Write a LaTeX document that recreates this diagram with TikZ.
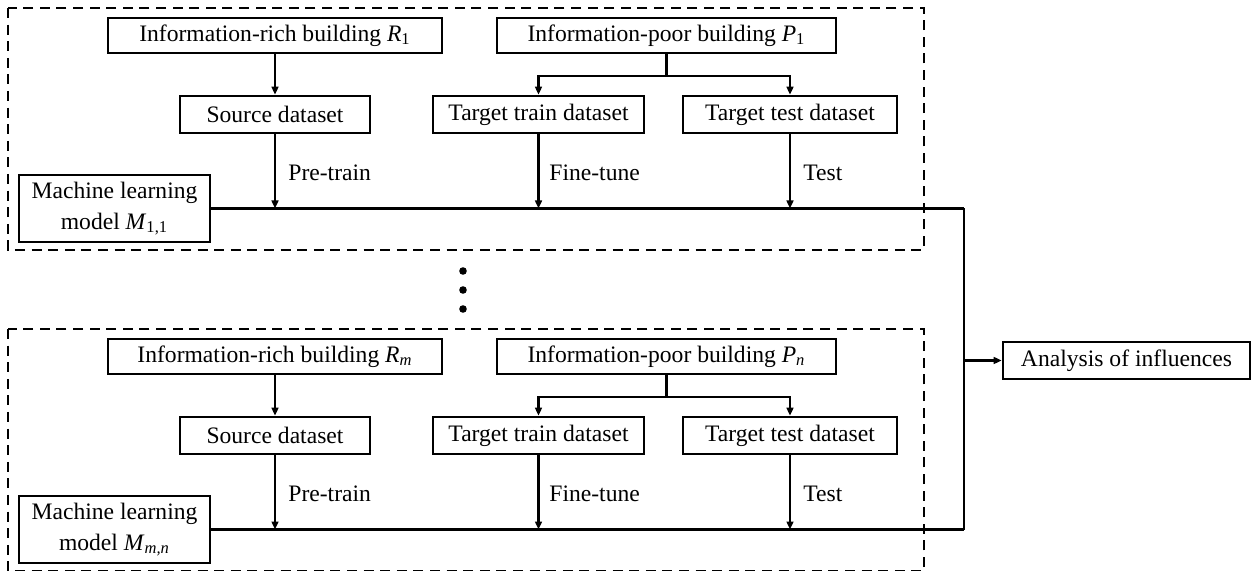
\documentclass[tikz,border=0pt]{standalone}
\usepackage{fontspec}
\setmainfont{Liberation Serif}
\usetikzlibrary{arrows.meta}
\tikzset{
  x=0.5pt, y=-0.5pt,
  txt/.style={font=\fontsize{11.8}{15.5}\selectfont},
  box/.style={txt, draw, line width=1.3pt, inner sep=0pt, align=center},
  lbl/.style={txt, anchor=west, inner sep=0pt},
  conn/.style={line width=1.1pt},
  arr/.style={conn, -{Triangle[length=4pt,width=3.4pt]}},
  groupframe/.style={draw, dash pattern=on 5pt off 3.3pt, line width=1.1pt},
}
\newcommand{\ital}[1]{\textit{#1}}
\newcommand{\drawgroup}[5]{%
  \begin{scope}[yshift=#2]
    \draw[groupframe] (8,8) rectangle (924,250);
    \node[box, minimum width=167pt, minimum height=17.5pt] (R#1) at (275,35.5) {Information-rich building #3};
    \node[box, minimum width=169.5pt, minimum height=17.5pt] (P#1) at (666.5,35.5) {Information-poor building #4};
    \node[box, minimum width=95pt, minimum height=18.5pt] (S#1) at (275,114.5) {Source dataset};
    \node[box, minimum width=105.5pt, minimum height=18.5pt] (TR#1) at (538.5,114.5) {Target train dataset};
    \node[box, minimum width=107pt, minimum height=18.5pt] (TE#1) at (790,114.5) {Target test dataset};
    \node[box, minimum width=95.5pt, minimum height=33.5pt] (M#1) at (114.5,208.5) {Machine learning\\model #5};
    \coordinate (J#1) at (964,208.5);
    \coordinate (SP#1) at (666.5,76);
    \coordinate (PA#1) at (275,208.5);
    \coordinate (FA#1) at (538.5,208.5);
    \coordinate (TA#1) at (790,208.5);
    \draw[arr] (R#1.south) -- (S#1.north);
    \draw[conn] (P#1.south) -- (SP#1);
    \draw[arr] (SP#1) -| (TR#1.north);
    \draw[arr] (SP#1) -| (TE#1.north);
    \draw[conn] (M#1.east) -- (J#1);
    \draw[arr] (S#1.south) -- (PA#1);
    \draw[arr] (TR#1.south) -- (FA#1);
    \draw[arr] (TE#1.south) -- (TA#1);
    \node[lbl] (LP#1) at (288,173) {Pre-train};
    \node[lbl] (LF#1) at (549,173) {Fine-tune};
    \node[lbl] (LT#1) at (803,173) {Test};
  \end{scope}}
\begin{document}
\begin{tikzpicture}
  \useasboundingbox (0,0) rectangle (1253,571);
  \drawgroup{a}{0pt}{\ital{R}\textsubscript{1}}{\ital{P}\textsubscript{1}}{\ital{M}\textsubscript{1,1}}
  \drawgroup{b}{-160.5pt}{\ital{R}\textsubscript{\ital{m}}}{\ital{P}\textsubscript{\ital{n}}}{\ital{M}\textsubscript{\ital{m,n}}}
  \foreach \i/\yy in {1/271,2/290,3/309} \fill (463,\yy) circle (1.9pt) coordinate (dot\i);
  \node[box, minimum width=123.5pt, minimum height=18.5pt] (AN) at (1126.5,360.5) {Analysis of influences};
  \coordinate (JM) at (964,360.5);
  \draw[conn] (Ja) -- (Jb);
  \draw[arr] (JM) -- (AN.west);
\end{tikzpicture}
\end{document}
